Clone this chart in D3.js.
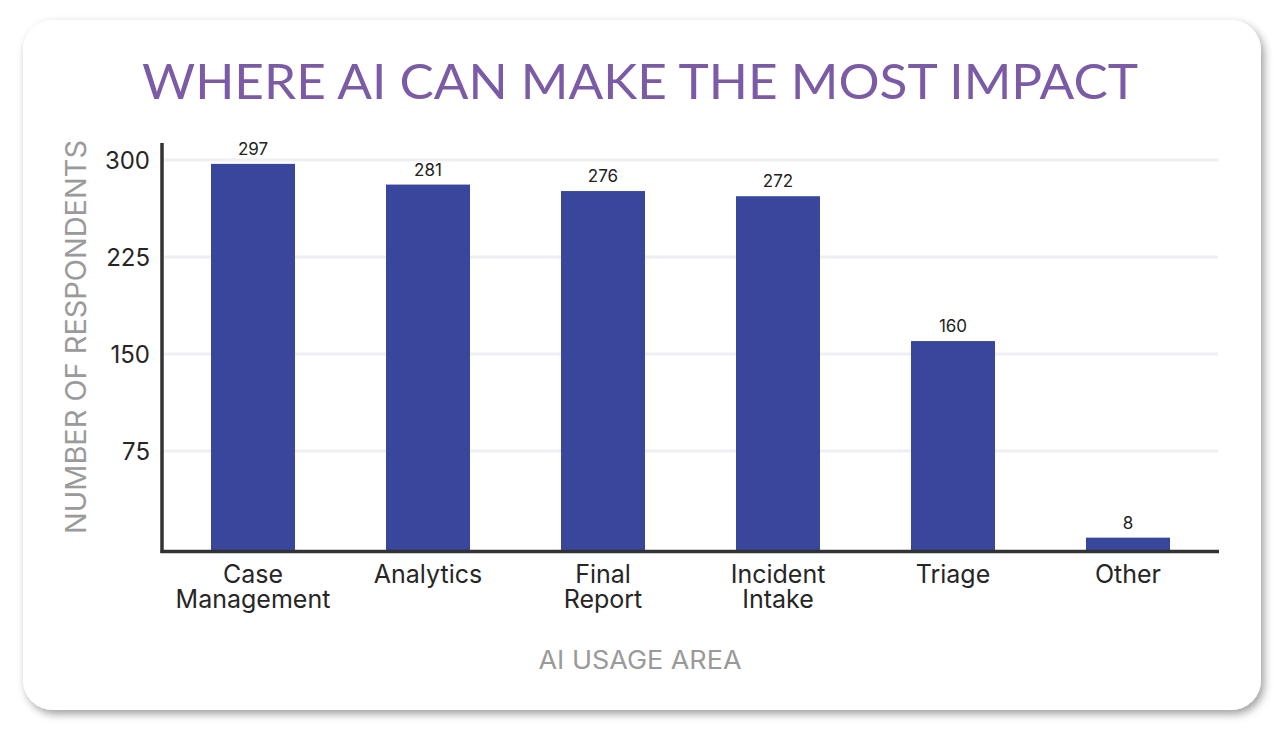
<!DOCTYPE html>
<html>
<head>
<meta charset="utf-8">
<script src="https://cdn.jsdelivr.net/npm/d3@7"></script>
<style>
  body { margin: 0; background: #fff; }
  svg { display: block; }
</style>
</head>
<body>
<div id="chart"></div>
<script>
const categories = [['Case', 'Management'], ['Analytics'], ['Final', 'Report'], ['Incident', 'Intake'], ['Triage'], ['Other']];
const values = [297, 281, 276, 272, 160, 8];
const yTicks = [75, 150, 225, 300];

const W = 1283, H = 738;
const svg = d3.select('#chart').append('svg')
  .attr('width', W)
  .attr('height', H);

// card shadow
const defs = svg.append('defs');
const f = defs.append('filter').attr('id', 'shadow')
  .attr('x', '-5%').attr('y', '-5%').attr('width', '110%').attr('height', '115%');
f.append('feDropShadow')
  .attr('dx', 3).attr('dy', 4)
  .attr('stdDeviation', 4.5)
  .attr('flood-color', '#000')
  .attr('flood-opacity', 0.38);

svg.append('rect')
  .attr('x', 23).attr('y', 20)
  .attr('width', 1238).attr('height', 690)
  .attr('rx', 30).attr('ry', 30)
  .attr('fill', '#fff')
  .attr('filter', 'url(#shadow)');

svg.append('text')
  .attr('x', 640).attr('y', 99)
  .attr('text-anchor', 'middle')
  .attr('font-family', 'Lato, sans-serif')
  .attr('font-size', 49)
  .attr('fill', '#7b5ba6')
  .attr('textLength', 996)
  .attr('lengthAdjust', 'spacingAndGlyphs')
  .text('WHERE AI CAN MAKE THE MOST IMPACT');

const x = d3.scaleBand()
  .domain(d3.range(categories.length))
  .range([165.5, 1215.5])
  .paddingInner(0.52)
  .paddingOuter(0.26);

const y = d3.scaleLinear()
  .domain([0, 300])
  .range([548, 160]);

// gridlines
svg.append('g')
  .selectAll('line')
  .data(yTicks)
  .join('line')
  .attr('x1', 163).attr('x2', 1218)
  .attr('y1', (d) => y(d)).attr('y2', (d) => y(d))
  .attr('stroke', '#efeff3')
  .attr('stroke-width', 3);

// y tick labels
const yAxis = d3.axisLeft(y).tickValues(yTicks).tickSize(0).tickPadding(0);
const gy = svg.append('g')
  .attr('transform', 'translate(150,0)')
  .call(yAxis);
gy.select('.domain').remove();
gy.selectAll('text')
  .attr('font-family', 'Inter, sans-serif')
  .attr('font-size', 24)
  .attr('fill', '#262626')
  .attr('dy', '0.36em');

// bars
svg.append('g')
  .selectAll('rect')
  .data(values)
  .join('rect')
  .attr('x', (d, i) => x(i))
  .attr('width', x.bandwidth())
  .attr('y', (d) => y(d))
  .attr('height', (d) => 551 - y(d))
  .attr('fill', '#38479c');

// value labels
svg.append('g')
  .selectAll('text')
  .data(values)
  .join('text')
  .attr('x', (d, i) => x(i) + x.bandwidth() / 2)
  .attr('y', (d) => y(d) - 9)
  .attr('text-anchor', 'middle')
  .attr('font-family', 'Inter, sans-serif')
  .attr('font-size', 17)
  .attr('fill', '#222')
  .text((d) => d);

// axis lines
svg.append('line')
  .attr('x1', 162).attr('x2', 162)
  .attr('y1', 143).attr('y2', 553)
  .attr('stroke', '#333').attr('stroke-width', 3.5);
svg.append('line')
  .attr('x1', 160.5).attr('x2', 1219)
  .attr('y1', 551.5).attr('y2', 551.5)
  .attr('stroke', '#333').attr('stroke-width', 3.5);

// category labels
const cat = svg.append('g')
  .selectAll('text')
  .data(categories)
  .join('text')
  .attr('x', (d, i) => x(i) + x.bandwidth() / 2)
  .attr('y', 583)
  .attr('text-anchor', 'middle')
  .attr('font-family', 'Inter, sans-serif')
  .attr('font-size', 25)
  .attr('fill', '#262626');
cat.selectAll('tspan')
  .data((d) => d)
  .join('tspan')
  .attr('x', function () { return d3.select(this.parentNode).attr('x'); })
  .attr('dy', (d, i) => i === 0 ? 0 : 25)
  .text((d) => d);

// axis titles
svg.append('text')
  .attr('x', 640).attr('y', 669)
  .attr('text-anchor', 'middle')
  .attr('font-family', 'Inter, sans-serif')
  .attr('font-size', 25)
  .attr('fill', '#9a9a9a')
  .attr('textLength', 203)
  .attr('lengthAdjust', 'spacingAndGlyphs')
  .text('AI USAGE AREA');

svg.append('text')
  .attr('transform', 'translate(86,337) rotate(-90)')
  .attr('text-anchor', 'middle')
  .attr('font-family', 'Inter, sans-serif')
  .attr('font-size', 28)
  .attr('fill', '#9a9a9a')
  .attr('textLength', 394)
  .attr('lengthAdjust', 'spacingAndGlyphs')
  .text('NUMBER OF RESPONDENTS');
</script>
</body>
</html>
